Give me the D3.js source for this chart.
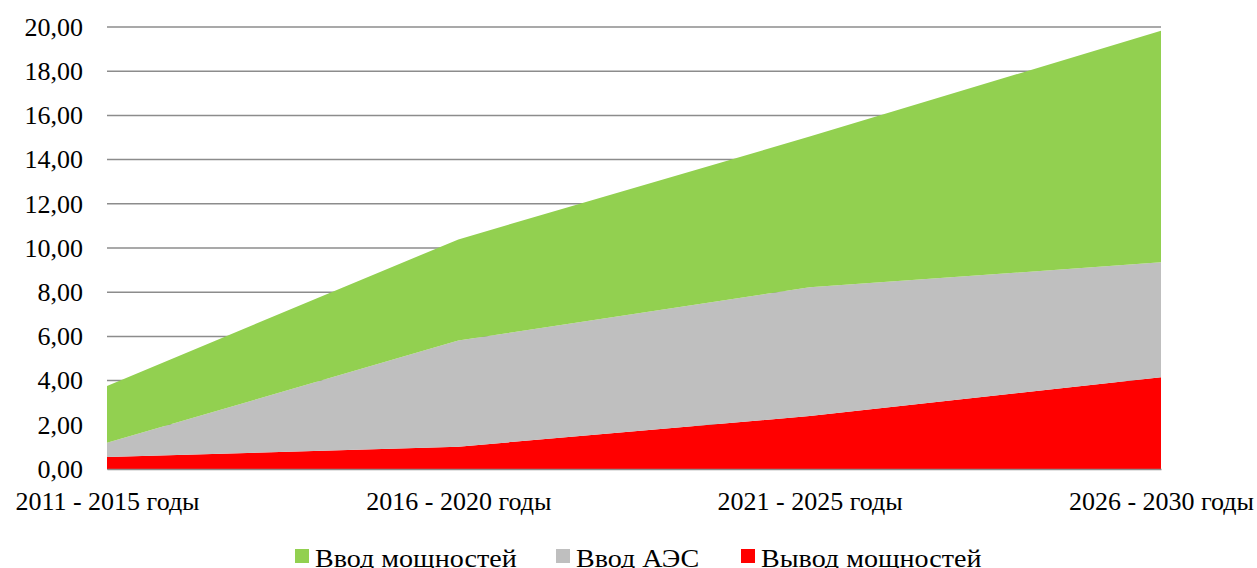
<!DOCTYPE html>
<html><head><meta charset="utf-8">
<script src="https://cdn.jsdelivr.net/npm/d3@7"></script>
<style>body{margin:0;background:#fff}svg{display:block}</style>
</head><body><svg id="c" width="1257" height="568"></svg>
<script>
const categories = ["2011 - 2015 годы","2016 - 2020 годы","2021 - 2025 годы","2026 - 2030 годы"];
const seriesNames = ["Вывод мощностей","Ввод АЭС","Ввод мощностей"];
const vyvod = [0.54, 1.01, 2.40, 4.15];
const vvodAES = [0.65, 4.80, 5.82, 5.20];
const vvod = [2.57, 4.58, 6.82, 10.48];
const yTicks = [0,2,4,6,8,10,12,14,16,18,20];
const colors = ["#ff0000","#bfbfbf","#92d050"];
const FONT = "'Liberation Serif', 'Times New Roman', serif";

const svg = d3.select("#c");
const L=107, R=1161, T=27, B=469;
const x = d3.scalePoint().domain(categories).range([L,R]);
const y = d3.scaleLinear().domain([0,20]).range([B,T]);

const rows = categories.map((c,i)=>({cat:c, s0:vyvod[i], s1:vvodAES[i], s2:vvod[i]}));
const layers = d3.stack().keys(["s0","s1","s2"])(rows);

svg.append("g").selectAll("line").data(yTicks).join("line")
  .attr("x1",L).attr("x2",R).attr("y1",d=>y(d)).attr("y2",d=>y(d))
  .attr("stroke","#8c8c8c").attr("stroke-width",1.5);

const area = d3.area().x(d=>x(d.data.cat)).y0(d=>y(d[0])).y1(d=>y(d[1]));
svg.append("g").selectAll("path").data(layers).join("path")
  .attr("d",area).attr("fill",(d,i)=>colors[i]);

const yAxis = d3.axisLeft(y).tickValues(yTicks).tickSize(0).tickPadding(24)
  .tickFormat(d=>d3.format(".2f")(d).replace(".",","));
const ga = svg.append("g").attr("transform",`translate(${L},0)`).call(yAxis);
ga.select(".domain").remove();
ga.selectAll("text").style("font-family",FONT).style("font-size","26px").attr("fill","#000");

const xAxis = d3.axisBottom(x).tickSize(0).tickPadding(23);
const gx = svg.append("g").attr("transform",`translate(0,${B})`).call(xAxis);
gx.select(".domain").attr("stroke","#8c8c8c").attr("stroke-width",1.5);
gx.selectAll("text").style("font-family",FONT).style("font-size","26px").attr("fill","#000");

const legendItems = [
  {name:seriesNames[2], color:colors[2], x:295},
  {name:seriesNames[1], color:colors[1], x:556},
  {name:seriesNames[0], color:colors[0], x:741}
];
const lg = svg.append("g");
legendItems.forEach(it=>{
  lg.append("rect").attr("x",it.x).attr("y",549).attr("width",14).attr("height",14).attr("fill",it.color);
  lg.append("text").attr("transform",`translate(${it.x+20},567) scale(1.08,1)`)
    .style("font-family",FONT).style("font-size","26px").attr("fill","#000").text(it.name);
});
</script></body></html>
